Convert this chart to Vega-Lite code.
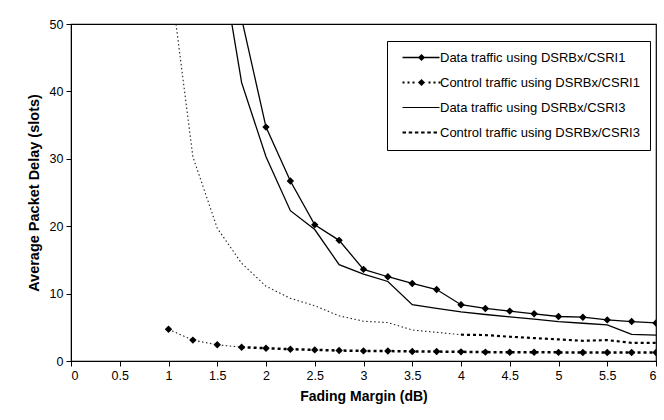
{
  "$schema": "https://vega.github.io/schema/vega-lite/v6.json",
  "width": 585,
  "height": 337,
  "autosize": {"type": "none"},
  "padding": {"left": 71, "top": 24, "right": 8, "bottom": 59},
  "background": "white",
  "config": {
    "font": "Liberation Sans",
    "view": {"stroke": "black", "strokeWidth": 1.2},
    "axis": {
      "grid": false,
      "domainColor": "black",
      "tickColor": "black",
      "labelColor": "black",
      "titleColor": "black",
      "labelFont": "Liberation Sans",
      "titleFont": "Liberation Sans",
      "labelFontSize": 12.5,
      "titleFontWeight": "bold",
      "tickSize": 5,
      "labelPadding": 3
    }
  },
  "data": {
    "values": [
      {"series": "Data traffic using DSRBx/CSRI1", "x": 1.5, "y": 75},
      {"series": "Data traffic using DSRBx/CSRI1", "x": 1.75, "y": 50.8},
      {"series": "Data traffic using DSRBx/CSRI1", "x": 2, "y": 34.7},
      {"series": "Data traffic using DSRBx/CSRI1", "x": 2.25, "y": 26.7},
      {"series": "Data traffic using DSRBx/CSRI1", "x": 2.5, "y": 20.2},
      {"series": "Data traffic using DSRBx/CSRI1", "x": 2.75, "y": 17.9},
      {"series": "Data traffic using DSRBx/CSRI1", "x": 3, "y": 13.6},
      {"series": "Data traffic using DSRBx/CSRI1", "x": 3.25, "y": 12.5},
      {"series": "Data traffic using DSRBx/CSRI1", "x": 3.5, "y": 11.5},
      {"series": "Data traffic using DSRBx/CSRI1", "x": 3.75, "y": 10.6},
      {"series": "Data traffic using DSRBx/CSRI1", "x": 4, "y": 8.35},
      {"series": "Data traffic using DSRBx/CSRI1", "x": 4.25, "y": 7.8},
      {"series": "Data traffic using DSRBx/CSRI1", "x": 4.5, "y": 7.4},
      {"series": "Data traffic using DSRBx/CSRI1", "x": 4.75, "y": 7.0},
      {"series": "Data traffic using DSRBx/CSRI1", "x": 5, "y": 6.6},
      {"series": "Data traffic using DSRBx/CSRI1", "x": 5.25, "y": 6.5},
      {"series": "Data traffic using DSRBx/CSRI1", "x": 5.5, "y": 6.1},
      {"series": "Data traffic using DSRBx/CSRI1", "x": 5.75, "y": 5.85},
      {"series": "Data traffic using DSRBx/CSRI1", "x": 6, "y": 5.65},
      {"series": "Control traffic using DSRBx/CSRI1", "x": 1, "y": 4.7},
      {"series": "Control traffic using DSRBx/CSRI1", "x": 1.25, "y": 3.1},
      {"series": "Control traffic using DSRBx/CSRI1", "x": 1.5, "y": 2.4},
      {"series": "Control traffic using DSRBx/CSRI1", "x": 1.75, "y": 2.05},
      {"series": "Control traffic using DSRBx/CSRI1", "x": 2, "y": 1.9},
      {"series": "Control traffic using DSRBx/CSRI1", "x": 2.25, "y": 1.75},
      {"series": "Control traffic using DSRBx/CSRI1", "x": 2.5, "y": 1.65},
      {"series": "Control traffic using DSRBx/CSRI1", "x": 2.75, "y": 1.55},
      {"series": "Control traffic using DSRBx/CSRI1", "x": 3, "y": 1.5},
      {"series": "Control traffic using DSRBx/CSRI1", "x": 3.25, "y": 1.48},
      {"series": "Control traffic using DSRBx/CSRI1", "x": 3.5, "y": 1.42},
      {"series": "Control traffic using DSRBx/CSRI1", "x": 3.75, "y": 1.4},
      {"series": "Control traffic using DSRBx/CSRI1", "x": 4, "y": 1.36},
      {"series": "Control traffic using DSRBx/CSRI1", "x": 4.25, "y": 1.32},
      {"series": "Control traffic using DSRBx/CSRI1", "x": 4.5, "y": 1.3},
      {"series": "Control traffic using DSRBx/CSRI1", "x": 4.75, "y": 1.3},
      {"series": "Control traffic using DSRBx/CSRI1", "x": 5, "y": 1.28},
      {"series": "Control traffic using DSRBx/CSRI1", "x": 5.25, "y": 1.27},
      {"series": "Control traffic using DSRBx/CSRI1", "x": 5.5, "y": 1.25},
      {"series": "Control traffic using DSRBx/CSRI1", "x": 5.75, "y": 1.25},
      {"series": "Control traffic using DSRBx/CSRI1", "x": 6, "y": 1.25},
      {"series": "Data traffic using DSRBx/CSRI3", "x": 1.5, "y": 63},
      {"series": "Data traffic using DSRBx/CSRI3", "x": 1.75, "y": 41.3},
      {"series": "Data traffic using DSRBx/CSRI3", "x": 2, "y": 30.3},
      {"series": "Data traffic using DSRBx/CSRI3", "x": 2.25, "y": 22.3},
      {"series": "Data traffic using DSRBx/CSRI3", "x": 2.5, "y": 19.5},
      {"series": "Data traffic using DSRBx/CSRI3", "x": 2.75, "y": 14.3},
      {"series": "Data traffic using DSRBx/CSRI3", "x": 3, "y": 12.9},
      {"series": "Data traffic using DSRBx/CSRI3", "x": 3.25, "y": 11.8},
      {"series": "Data traffic using DSRBx/CSRI3", "x": 3.5, "y": 8.35},
      {"series": "Data traffic using DSRBx/CSRI3", "x": 3.75, "y": 7.8},
      {"series": "Data traffic using DSRBx/CSRI3", "x": 4, "y": 7.3},
      {"series": "Data traffic using DSRBx/CSRI3", "x": 4.25, "y": 6.9},
      {"series": "Data traffic using DSRBx/CSRI3", "x": 4.5, "y": 6.55},
      {"series": "Data traffic using DSRBx/CSRI3", "x": 4.75, "y": 6.2},
      {"series": "Data traffic using DSRBx/CSRI3", "x": 5, "y": 5.85},
      {"series": "Data traffic using DSRBx/CSRI3", "x": 5.25, "y": 5.6},
      {"series": "Data traffic using DSRBx/CSRI3", "x": 5.5, "y": 5.35},
      {"series": "Data traffic using DSRBx/CSRI3", "x": 5.75, "y": 3.95},
      {"series": "Data traffic using DSRBx/CSRI3", "x": 6, "y": 3.85},
      {"series": "Control traffic using DSRBx/CSRI3", "x": 1, "y": 58.8},
      {"series": "Control traffic using DSRBx/CSRI3", "x": 1.25, "y": 30.3},
      {"series": "Control traffic using DSRBx/CSRI3", "x": 1.5, "y": 19.7},
      {"series": "Control traffic using DSRBx/CSRI3", "x": 1.75, "y": 14.5},
      {"series": "Control traffic using DSRBx/CSRI3", "x": 2, "y": 11.1},
      {"series": "Control traffic using DSRBx/CSRI3", "x": 2.25, "y": 9.3},
      {"series": "Control traffic using DSRBx/CSRI3", "x": 2.5, "y": 8.2},
      {"series": "Control traffic using DSRBx/CSRI3", "x": 2.75, "y": 6.7},
      {"series": "Control traffic using DSRBx/CSRI3", "x": 3, "y": 5.9},
      {"series": "Control traffic using DSRBx/CSRI3", "x": 3.25, "y": 5.7},
      {"series": "Control traffic using DSRBx/CSRI3", "x": 3.5, "y": 4.6},
      {"series": "Control traffic using DSRBx/CSRI3", "x": 3.75, "y": 4.25},
      {"series": "Control traffic using DSRBx/CSRI3", "x": 4, "y": 3.9},
      {"series": "Control traffic using DSRBx/CSRI3", "x": 4.25, "y": 3.85},
      {"series": "Control traffic using DSRBx/CSRI3", "x": 4.5, "y": 3.6},
      {"series": "Control traffic using DSRBx/CSRI3", "x": 4.75, "y": 3.4},
      {"series": "Control traffic using DSRBx/CSRI3", "x": 5, "y": 3.2},
      {"series": "Control traffic using DSRBx/CSRI3", "x": 5.25, "y": 3.0},
      {"series": "Control traffic using DSRBx/CSRI3", "x": 5.5, "y": 3.1},
      {"series": "Control traffic using DSRBx/CSRI3", "x": 5.75, "y": 2.7},
      {"series": "Control traffic using DSRBx/CSRI3", "x": 6, "y": 2.7}
    ]
  },
  "encoding": {
    "x": {
      "field": "x",
      "type": "quantitative",
      "title": "Fading Margin (dB)",
      "scale": {"domain": [0, 6], "nice": false, "zero": false},
      "axis": {"values": [0, 0.5, 1, 1.5, 2, 2.5, 3, 3.5, 4, 4.5, 5, 5.5, 6], "format": "~g", "titlePadding": 8, "titleFontSize": 14}
    },
    "y": {
      "field": "y",
      "type": "quantitative",
      "title": "Average Packet Delay (slots)",
      "scale": {"domain": [0, 50], "nice": false},
      "axis": {"values": [0, 10, 20, 30, 40, 50], "titlePadding": 8, "titleFontSize": 14.5}
    }
  },
  "layer": [
    {
      "transform": [{"filter": "datum.series == 'Data traffic using DSRBx/CSRI1'"}],
      "mark": {"type": "line", "color": "black", "strokeWidth": 1.3, "clip": true}
    },
    {
      "transform": [{"filter": "datum.series == 'Control traffic using DSRBx/CSRI1' && datum.x <= 1.75"}],
      "mark": {"type": "line", "color": "#222222", "strokeWidth": 1.1, "strokeDash": [1.5, 2.5], "clip": true}
    },
    {
      "transform": [{"filter": "datum.series == 'Control traffic using DSRBx/CSRI1' && datum.x >= 1.75"}],
      "mark": {"type": "line", "color": "black", "strokeWidth": 2.5, "strokeDash": [3, 3], "clip": true}
    },
    {
      "transform": [{"filter": "datum.series == 'Data traffic using DSRBx/CSRI3'"}],
      "mark": {"type": "line", "color": "black", "strokeWidth": 1.3, "clip": true}
    },
    {
      "transform": [{"filter": "datum.series == 'Control traffic using DSRBx/CSRI3' && datum.x <= 4"}],
      "mark": {"type": "line", "color": "#222222", "strokeWidth": 1.1, "strokeDash": [1.5, 2.5], "clip": true}
    },
    {
      "transform": [{"filter": "datum.series == 'Control traffic using DSRBx/CSRI3' && datum.x >= 4"}],
      "mark": {"type": "line", "color": "black", "strokeWidth": 2.2, "strokeDash": [3, 3], "clip": true}
    },
    {
      "transform": [{"filter": "(datum.series == 'Data traffic using DSRBx/CSRI1' || datum.series == 'Control traffic using DSRBx/CSRI1') && datum.y <= 50"}],
      "mark": {"type": "point", "shape": "diamond", "filled": true, "color": "black", "opacity": 1, "size": 55, "clip": true}
    },
    {
      "transform": [{"filter": "datum.y < 0"}],
      "mark": {"type": "point", "filled": true, "color": "black", "opacity": 1, "size": 64, "clip": true},
      "encoding": {
        "shape": {
          "field": "series",
          "type": "nominal",
          "scale": {
            "domain": ["Data traffic using DSRBx/CSRI1", "Control traffic using DSRBx/CSRI1", "Data traffic using DSRBx/CSRI3", "Control traffic using DSRBx/CSRI3"],
            "range": [
              "M-1,-0.16H8.25V0.16H-1Z M3.75,-0.9L4.65,0L3.75,0.9L2.85,0Z",
              "M-1,-0.25H-0.5V0.25H-1Z M0.25,-0.25H0.75V0.25H0.25Z M1.5,-0.25H2V0.25H1.5Z M3.75,-0.9L4.65,0L3.75,0.9L2.85,0Z M5.5,-0.25H6V0.25H5.5Z M6.75,-0.25H7.25V0.25H6.75Z M8,-0.25H8.5V0.25H8Z",
              "M-1,-0.14H8.25V0.14H-1Z",
              "M-1,-0.22H-0.125V0.22H-1Z M0.55,-0.22H1.425V0.22H0.55Z M2.1,-0.22H2.975V0.22H2.1Z M3.65,-0.22H4.525V0.22H3.65Z M5.2,-0.22H6.075V0.22H5.2Z M6.75,-0.22H7.625V0.22H6.75Z"
            ]
          },
          "legend": {
            "title": null,
            "orient": "none",
            "legendX": 316,
            "legendY": 17,
            "strokeColor": "black",
            "fillColor": "white",
            "padding": 10,
            "labelFont": "Liberation Sans",
            "labelFontSize": 13,
            "labelColor": "black",
            "labelLimit": 400,
            "labelOffset": 27,
            "symbolOffset": 3,
            "symbolSize": 64,
            "symbolStrokeWidth": 0,
            "symbolFillColor": "black",
            "symbolOpacity": 1,
            "rowPadding": 11,
            "values": ["Data traffic using DSRBx/CSRI1", "Control traffic using DSRBx/CSRI1", "Data traffic using DSRBx/CSRI3", "Control traffic using DSRBx/CSRI3"]
          }
        }
      }
    }
  ]
}
